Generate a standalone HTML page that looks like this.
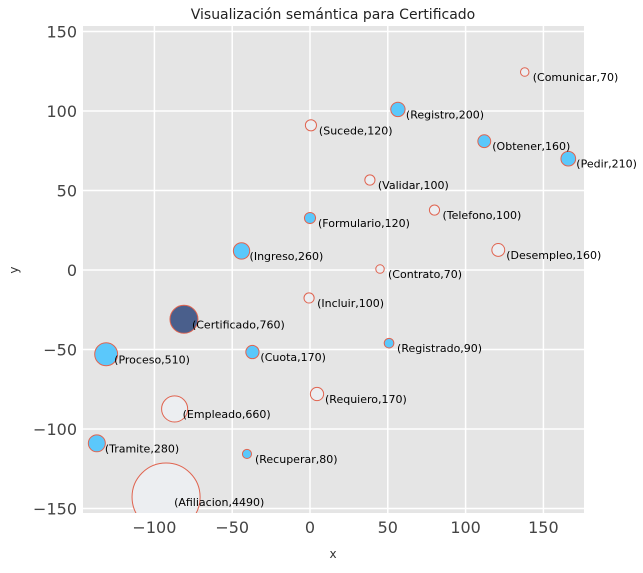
<!DOCTYPE html>
<html><head><meta charset="utf-8"><style>
body{margin:0;background:#fff;font-family:"Liberation Sans","DejaVu Sans",sans-serif}
</style></head><body>
<svg id="chart" width="643" height="568" font-family="DejaVu Sans, Liberation Sans, sans-serif">
<defs><clipPath id="pc"><rect x="83" y="26" width="501" height="487"/></clipPath></defs>
<text x="333" y="19" text-anchor="middle" font-size="14" fill="#222">Visualización semántica para Certificado</text>
<rect x="83" y="26" width="501" height="487" fill="#e5e5e5"/>
<g id="grid"></g><g id="ticks"></g><g id="marks" clip-path="url(#pc)"></g><g id="lbls"></g>
<text x="333" y="558" text-anchor="middle" font-size="12" fill="#333">x</text>
<text x="18" y="270" text-anchor="middle" font-size="12" fill="#333" transform="rotate(-90 18 270)">y</text>
</svg>
<script>
const labels=["Comunicar","Registro","Sucede","Obtener","Pedir","Validar","Telefono","Formulario","Desempleo","Ingreso","Contrato","Incluir","Certificado","Proceso","Cuota","Registrado","Requiero","Empleado","Tramite","Recuperar","Afiliacion"];
const sizes=[70,200,120,160,210,100,100,120,160,260,70,100,760,510,170,90,170,660,280,80,4490];
const xs=[138,56.5,0.6,112,166,38.5,80,0,121,-44,45,-0.6,-81,-131,-37,50.8,4.5,-87,-137,-40.5,-92.5];
const ys=[124.5,101,91,81,70,56.6,37.7,32.7,12.6,12,0.6,-17.6,-31,-53,-51.6,-46,-78,-87.4,-109,-115.7,-142.8];
const groups=[0,1,0,1,1,0,0,1,0,1,0,0,2,1,1,1,0,0,1,1,0];
const xTicks=[-100,-50,0,50,100,150];
const yTicks=[-150,-100,-50,0,50,100,150];
const fills=["#eceef1","#5bc8fb","#4a5f8c"];
const X=v=>310+v*1.556, Y=v=>270-v*1.59;
const ns="http://www.w3.org/2000/svg";
const g=document.getElementById('grid'),t=document.getElementById('ticks'),m=document.getElementById('marks'),lb=document.getElementById('lbls');
function mk(tag,a,p){const e=document.createElementNS(ns,tag);for(const k in a)e.setAttribute(k,a[k]);p.appendChild(e);return e;}
xTicks.forEach(v=>{
 const l=mk('line',{x1:X(v),x2:X(v),y1:26,y2:513,stroke:'#fff','stroke-width':1.5},g);
 
 
 const s=mk('text',{x:X(v),y:533,'text-anchor':'middle','font-size':16,fill:'#444'},t);s.textContent=v===0?'0':String(v).replace('-','−');
 
 
});
yTicks.forEach(v=>{
 const l=mk('line',{x1:83,x2:584,y1:Y(v),y2:Y(v),stroke:'#fff','stroke-width':1.5},g);
 
 
 const s=mk('text',{x:77,y:Y(v)+6,'text-anchor':'end','font-size':16,fill:'#444'},t);s.textContent=v===0?'0':String(v).replace('-','−');
 
 
});
labels.forEach((n,i)=>{
 const cx=X(xs[i]),cy=Y(ys[i]),r=0.9*Math.sqrt(sizes[i]/Math.PI);
 const c=mk('circle',{cx,cy,r,fill:fills[groups[i]],stroke:'#e06450','stroke-width':1},m);
 
 
});
labels.forEach((n,i)=>{
 const s=mk('text',{x:X(xs[i])+8,y:Y(ys[i])+9,'font-size':11,fill:'#000'},lb);
 s.textContent='('+n+','+sizes[i]+')';
 
 
});
</script>
</body></html>
